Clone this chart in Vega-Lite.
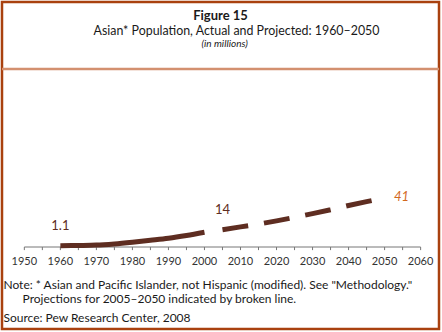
{
  "$schema": "https://vega.github.io/schema/vega-lite/v6.json",
  "width": 437,
  "height": 327,
  "autosize": {"type": "none"},
  "padding": {"left": 2, "top": 2, "right": 3, "bottom": 3},
  "background": "white",
  "config": {
    "view": {"stroke": "#a9410f", "strokeWidth": 2.5},
    "font": "Lato",
    "text": {"font": "Lato"}
  },
  "title": {
    "text": "Figure 15",
    "fontSize": 13,
    "fontWeight": "bold",
    "color": "#1a1a1a",
    "anchor": "middle",
    "frame": "group",
    "orient": "top",
    "offset": -21
  },
  "data": {"values": [{}]},
  "datasets": {
    "actual": [
      {"year": 1960, "value": 1.1},
      {"year": 1965, "value": 1.3},
      {"year": 1970, "value": 1.6},
      {"year": 1975, "value": 2.6},
      {"year": 1980, "value": 4.0},
      {"year": 1985, "value": 5.6},
      {"year": 1990, "value": 7.3},
      {"year": 1995, "value": 9.6},
      {"year": 2000, "value": 12.3}
    ],
    "projected": [
      {"year": 2005, "value": 14.4},
      {"year": 2010, "value": 16.8},
      {"year": 2015, "value": 19.1},
      {"year": 2020, "value": 21.8},
      {"year": 2025, "value": 24.7},
      {"year": 2030, "value": 27.8},
      {"year": 2035, "value": 31.0},
      {"year": 2040, "value": 34.6},
      {"year": 2045, "value": 37.8},
      {"year": 2050, "value": 41.0}
    ],
    "ticks": [
      {"year": 1950}, {"year": 1955}, {"year": 1960}, {"year": 1965}, {"year": 1970}, {"year": 1975},
      {"year": 1980}, {"year": 1985}, {"year": 1990}, {"year": 1995}, {"year": 2000}, {"year": 2005},
      {"year": 2010}, {"year": 2015}, {"year": 2020}, {"year": 2025}, {"year": 2030}, {"year": 2035},
      {"year": 2040}, {"year": 2045}, {"year": 2050}, {"year": 2055}, {"year": 2060}
    ],
    "decades": [
      {"year": 1950}, {"year": 1960}, {"year": 1970}, {"year": 1980}, {"year": 1990}, {"year": 2000},
      {"year": 2010}, {"year": 2020}, {"year": 2030}, {"year": 2040}, {"year": 2050}, {"year": 2060}
    ],
    "labels": [
      {"year": 1960, "value": 1.1, "label": "1.1"},
      {"year": 2005, "value": 14.4, "label": "14"}
    ],
    "endlabel": [
      {"year": 2050, "value": 41.0, "label": "41"}
    ]
  },
  "layer": [
    {
      "mark": {"type": "rule", "color": "#d3906f", "strokeWidth": 2.5},
      "encoding": {
        "y": {"datum": 148.3, "type": "quantitative", "scale": {"domain": [-68.33, 204.17], "nice": false, "zero": false}, "axis": null}
      }
    },
    {
      "mark": {"type": "rule", "color": "#777777", "strokeWidth": 1},
      "encoding": {
        "x": {"datum": 1950, "type": "quantitative", "scale": {"domain": [1943.8, 2065.1], "nice": false, "zero": false}, "axis": null},
        "x2": {"datum": 2060},
        "y": {"datum": 0, "type": "quantitative", "scale": {"domain": [-68.33, 204.17], "nice": false, "zero": false}, "axis": null}
      }
    },
    {
      "data": {"name": "ticks"},
      "mark": {"type": "rule", "color": "#777777", "strokeWidth": 1},
      "encoding": {
        "x": {"field": "year", "type": "quantitative", "axis": null},
        "y": {"datum": 0, "type": "quantitative"},
        "y2": {"datum": -2.6}
      }
    },
    {
      "data": {"name": "decades"},
      "mark": {"type": "text", "color": "#333333", "fontSize": 11, "dy": 15, "align": "center", "baseline": "middle"},
      "encoding": {
        "x": {"field": "year", "type": "quantitative", "axis": null},
        "y": {"datum": 0, "type": "quantitative"},
        "text": {"field": "year", "type": "quantitative", "format": "d"}
      }
    },
    {
      "data": {"name": "actual"},
      "mark": {"type": "line", "color": "#5e2d21", "strokeWidth": 5, "strokeCap": "butt", "interpolate": "monotone"},
      "encoding": {
        "x": {"field": "year", "type": "quantitative", "axis": null},
        "y": {"field": "value", "type": "quantitative"}
      }
    },
    {
      "data": {"name": "projected"},
      "mark": {"type": "line", "color": "#5e2d21", "strokeWidth": 5, "strokeCap": "butt", "strokeDash": [26, 16]},
      "encoding": {
        "x": {"field": "year", "type": "quantitative", "axis": null},
        "y": {"field": "value", "type": "quantitative"}
      }
    },
    {
      "data": {"name": "labels"},
      "mark": {"type": "text", "color": "#5e2d21", "fontSize": 13, "dy": -20, "align": "center", "baseline": "middle"},
      "encoding": {
        "x": {"field": "year", "type": "quantitative", "axis": null},
        "y": {"field": "value", "type": "quantitative"},
        "text": {"field": "label"}
      }
    },
    {
      "data": {"name": "endlabel"},
      "mark": {"type": "text", "color": "#d2691e", "fontSize": 13, "fontStyle": "italic", "dx": 17, "dy": -1, "align": "center", "baseline": "middle"},
      "encoding": {
        "x": {"field": "year", "type": "quantitative", "axis": null},
        "y": {"field": "value", "type": "quantitative"},
        "text": {"field": "label"}
      }
    },
    {
      "mark": {"type": "text", "fontSize": 12.4, "color": "#1a1a1a", "align": "center", "baseline": "middle"},
      "encoding": {
        "x": {"datum": 2008.9, "type": "quantitative", "axis": null},
        "y": {"datum": 180, "type": "quantitative"},
        "text": {"value": "Asian* Population, Actual and Projected: 1960–2050"}
      }
    },
    {
      "mark": {"type": "text", "fontSize": 10, "fontStyle": "italic", "color": "#1a1a1a", "align": "center", "baseline": "middle"},
      "encoding": {
        "x": {"datum": 2005.6, "type": "quantitative", "axis": null},
        "y": {"datum": 169.2, "type": "quantitative"},
        "text": {"value": "(in millions)"}
      }
    },
    {
      "mark": {"type": "text", "fontSize": 12, "color": "#1a1a1a", "align": "left", "baseline": "middle"},
      "encoding": {
        "x": {"datum": 1944.2, "type": "quantitative", "axis": null},
        "y": {"datum": -31.7, "type": "quantitative"},
        "text": {"value": "Note: * Asian and Pacific Islander, not Hispanic (modified).  See \"Methodology.\""}
      }
    },
    {
      "mark": {"type": "text", "fontSize": 12, "color": "#1a1a1a", "align": "left", "baseline": "middle"},
      "encoding": {
        "x": {"datum": 1949.5, "type": "quantitative", "axis": null},
        "y": {"datum": -43.3, "type": "quantitative"},
        "text": {"value": "Projections for 2005–2050 indicated by broken line."}
      }
    },
    {
      "mark": {"type": "text", "fontSize": 12, "color": "#1a1a1a", "align": "left", "baseline": "middle"},
      "encoding": {
        "x": {"datum": 1944.2, "type": "quantitative", "axis": null},
        "y": {"datum": -59.2, "type": "quantitative"},
        "text": {"value": "Source: Pew Research Center, 2008"}
      }
    }
  ]
}
